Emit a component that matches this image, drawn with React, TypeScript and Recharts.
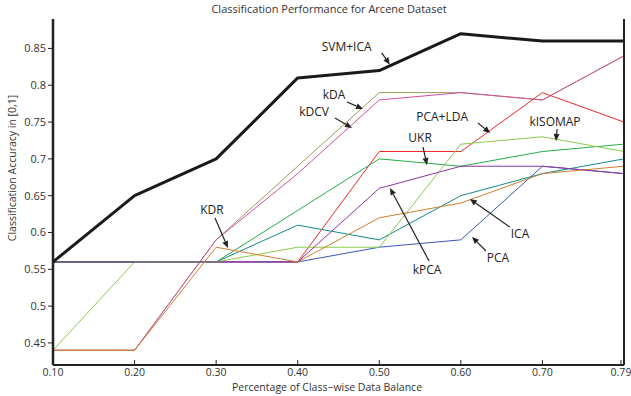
import React from 'react';
import { LineChart, Line, XAxis, YAxis, ReferenceLine, ReferenceDot } from 'recharts';

const xValues = [0.1, 0.2, 0.3, 0.4, 0.5, 0.6, 0.7, 0.8];
const svmIca = [0.56, 0.65, 0.70, 0.81, 0.82, 0.87, 0.86, 0.86];
const kDA = [0.44, 0.44, 0.59, 0.69, 0.79, 0.79, 0.78, 0.84];
const kDCV = [0.44, 0.44, 0.59, 0.68, 0.78, 0.79, 0.78, 0.84];
const pcaLda = [0.56, 0.56, 0.56, 0.56, 0.71, 0.71, 0.79, 0.75];
const kISOMAP = [0.44, 0.56, 0.56, 0.58, 0.58, 0.72, 0.73, 0.71];
const ukr = [0.56, 0.56, 0.56, 0.63, 0.70, 0.69, 0.71, 0.72];
const kPCA = [0.56, 0.56, 0.56, 0.56, 0.66, 0.69, 0.69, 0.68];
const ica = [0.56, 0.56, 0.56, 0.61, 0.59, 0.65, 0.68, 0.70];
const pca = [0.56, 0.56, 0.56, 0.56, 0.58, 0.59, 0.69, 0.68];
const kdr = [0.44, 0.44, 0.58, 0.56, 0.62, 0.64, 0.68, 0.69];

const xTicks = [0.1, 0.2, 0.3, 0.4, 0.5, 0.6, 0.7, 0.8];
const yTicks = [0.45, 0.5, 0.55, 0.6, 0.65, 0.7, 0.75, 0.8, 0.85];

// annotation labels
const labelNames = ['SVM+ICA', 'kDA', 'kDCV', 'PCA+LDA', 'kISOMAP', 'UKR', 'KDR', 'kPCA', 'ICA', 'PCA'];
const labelX = [0.46, 0.4445, 0.42, 0.577, 0.7154, 0.55, 0.2949, 0.5585, 0.6725, 0.6455];
const labelY = [0.852, 0.7868, 0.7637, 0.7569, 0.7514, 0.7297, 0.6306, 0.5504, 0.598, 0.5654];
// arrows: from (x1,y1) to (x2,y2)
const arrowX1 = [0.503, 0.4604, 0.4457, 0.621, 0.718, 0.5536, 0.2986, 0.561, 0.66, 0.6308];
const arrowY1 = [0.844, 0.7773, 0.7555, 0.7487, 0.7406, 0.7161, 0.6197, 0.5613, 0.6075, 0.5749];
const arrowX2 = [0.513, 0.48, 0.4666, 0.636, 0.7166, 0.5585, 0.3145, 0.5131, 0.611, 0.6137];
const arrowY2 = [0.828, 0.7678, 0.7419, 0.7351, 0.7243, 0.6917, 0.5789, 0.6604, 0.6455, 0.5939];

const data = xValues.map((x, i) => ({
  x,
  svmIca: svmIca[i],
  kDA: kDA[i],
  kDCV: kDCV[i],
  pcaLda: pcaLda[i],
  kISOMAP: kISOMAP[i],
  ukr: ukr[i],
  kPCA: kPCA[i],
  ica: ica[i],
  pca: pca[i],
  kdr: kdr[i],
}));

const series = [
  { key: 'kDA', color: '#9c9a5c', w: 1 },
  { key: 'kDCV', color: '#d2509e', w: 1 },
  { key: 'pcaLda', color: '#ee2a2a', w: 1 },
  { key: 'pca', color: '#3a56b8', w: 1 },
  { key: 'ica', color: '#14898c', w: 1 },
  { key: 'ukr', color: '#26ad48', w: 1 },
  { key: 'kISOMAP', color: '#8acb4a', w: 1 },
  { key: 'kPCA', color: '#8a35a6', w: 1 },
  { key: 'kdr', color: '#cf7f30', w: 1 },
  { key: 'svmIca', color: '#1a1a1a', w: 3 },
];

const FONT = '"Open Sans", sans-serif';
const AX = '#222';

const fmtX = (v: number) => (Math.abs(v - 0.8) < 1e-9 ? '0.79' : v.toFixed(2));
const fmtY = (v: number) => String(Number(v.toFixed(2)));

const BottomTick = (props: any) => {
  const { x, y, payload } = props;
  return (
    <g>
      <line x1={x} y1={y} x2={x} y2={y - 5} stroke={AX} strokeWidth={1} />
      <text x={x} y={y + 11} textAnchor="middle" fontSize={10.5} fill="#333" fontFamily={FONT}>
        {fmtX(payload.value)}
      </text>
    </g>
  );
};

const TopTick = (props: any) => {
  const { x, y } = props;
  return <line x1={x} y1={y} x2={x} y2={y + 5} stroke={AX} strokeWidth={1} />;
};

const RightTick = (props: any) => {
  const { x, y } = props;
  return <line x1={x} y1={y} x2={x - 5} y2={y} stroke={AX} strokeWidth={1} />;
};

const ArrowShape = (props: any) => {
  const { x1, y1, x2, y2 } = props;
  const ang = Math.atan2(y2 - y1, x2 - x1);
  const L = 7;
  const W = 3;
  const bx = x2 - L * Math.cos(ang);
  const by = y2 - L * Math.sin(ang);
  const px = -Math.sin(ang) * W;
  const py = Math.cos(ang) * W;
  return (
    <g>
      <line x1={x1} y1={y1} x2={bx} y2={by} stroke="#222" strokeWidth={1.2} />
      <polygon points={`${x2},${y2} ${bx + px},${by + py} ${bx - px},${by - py}`} fill="#222" />
    </g>
  );
};

const makeLabelShape = (text: string) => (props: any) => {
  const { cx, cy } = props;
  return (
    <text x={cx} y={cy} textAnchor="middle" dominantBaseline="central" fontSize={12} fill="#222" fontFamily={FONT}>
      {text}
    </text>
  );
};

export default function App() {
  return (
    <div style={{ position: 'absolute', left: 0, top: 0, width: 631, height: 396, background: '#fff' }}>
      <LineChart width={631} height={396} data={data} margin={{ top: 19, right: 0, bottom: 0, left: 0 }}>
        <XAxis
          dataKey="x"
          type="number"
          domain={[0.1, 0.8]}
          ticks={xTicks}
          height={31}
          tickSize={0}
          tickMargin={0}
          tick={<BottomTick />}
          axisLine={{ stroke: AX, strokeWidth: 2 }}
          tickLine={false}
          allowDataOverflow
        />
        <XAxis
          xAxisId="top"
          orientation="top"
          dataKey="x"
          type="number"
          domain={[0.1, 0.8]}
          ticks={xTicks}
          height={0}
          tickSize={0}
          tickMargin={0}
          tick={<TopTick />}
          axisLine={{ stroke: AX, strokeWidth: 2 }}
          tickLine={false}
        />
        <YAxis
          type="number"
          domain={[0.42, 0.89]}
          ticks={yTicks}
          width={53}
          tickSize={5}
          tickMargin={2}
          tickFormatter={fmtY}
          tick={{ fontSize: 11, fill: '#333', fontFamily: FONT }}
          tickLine={{ stroke: AX }}
          axisLine={{ stroke: AX, strokeWidth: 2.5 }}
          allowDataOverflow
        />
        <YAxis
          yAxisId="right"
          orientation="right"
          type="number"
          domain={[0.42, 0.89]}
          ticks={yTicks}
          width={7}
          tickSize={0}
          tickMargin={0}
          tick={<RightTick />}
          tickLine={false}
          axisLine={{ stroke: AX, strokeWidth: 2 }}
        />
        {series.map((s) => (
          <Line
            key={s.key}
            dataKey={s.key}
            stroke={s.color}
            strokeWidth={s.w}
            dot={false}
            activeDot={false}
            isAnimationActive={false}
            type="linear"
            strokeLinejoin="round"
          />
        ))}
        {labelNames.map((n, i) => (
          <ReferenceLine
            key={'a' + i}
            segment={[
              { x: arrowX1[i], y: arrowY1[i] },
              { x: arrowX2[i], y: arrowY2[i] },
            ]}
            shape={ArrowShape}
            ifOverflow="visible"
          />
        ))}
        {labelNames.map((n, i) => (
          <ReferenceDot key={'l' + i} x={labelX[i]} y={labelY[i]} shape={makeLabelShape(n)} ifOverflow="visible" />
        ))}
      </LineChart>
      <svg width={631} height={396} style={{ position: 'absolute', left: 0, top: 0, pointerEvents: 'none' }}>
        <text x={329} y={13} textAnchor="middle" fontSize={11} fill="#333" fontFamily={FONT}>
          Classification Performance for Arcene Dataset
        </text>
        <text x={327} y={391} textAnchor="middle" fontSize={10.5} fill="#333" fontFamily={FONT}>
          Percentage of Class−wise Data Balance
        </text>
        <text
          x={0}
          y={0}
          transform="translate(16,168) rotate(-90)"
          textAnchor="middle"
          fontSize={10.5}
          fill="#333"
          fontFamily={FONT}
        >
          Classification Accuracy in [0,1]
        </text>
      </svg>
    </div>
  );
}
